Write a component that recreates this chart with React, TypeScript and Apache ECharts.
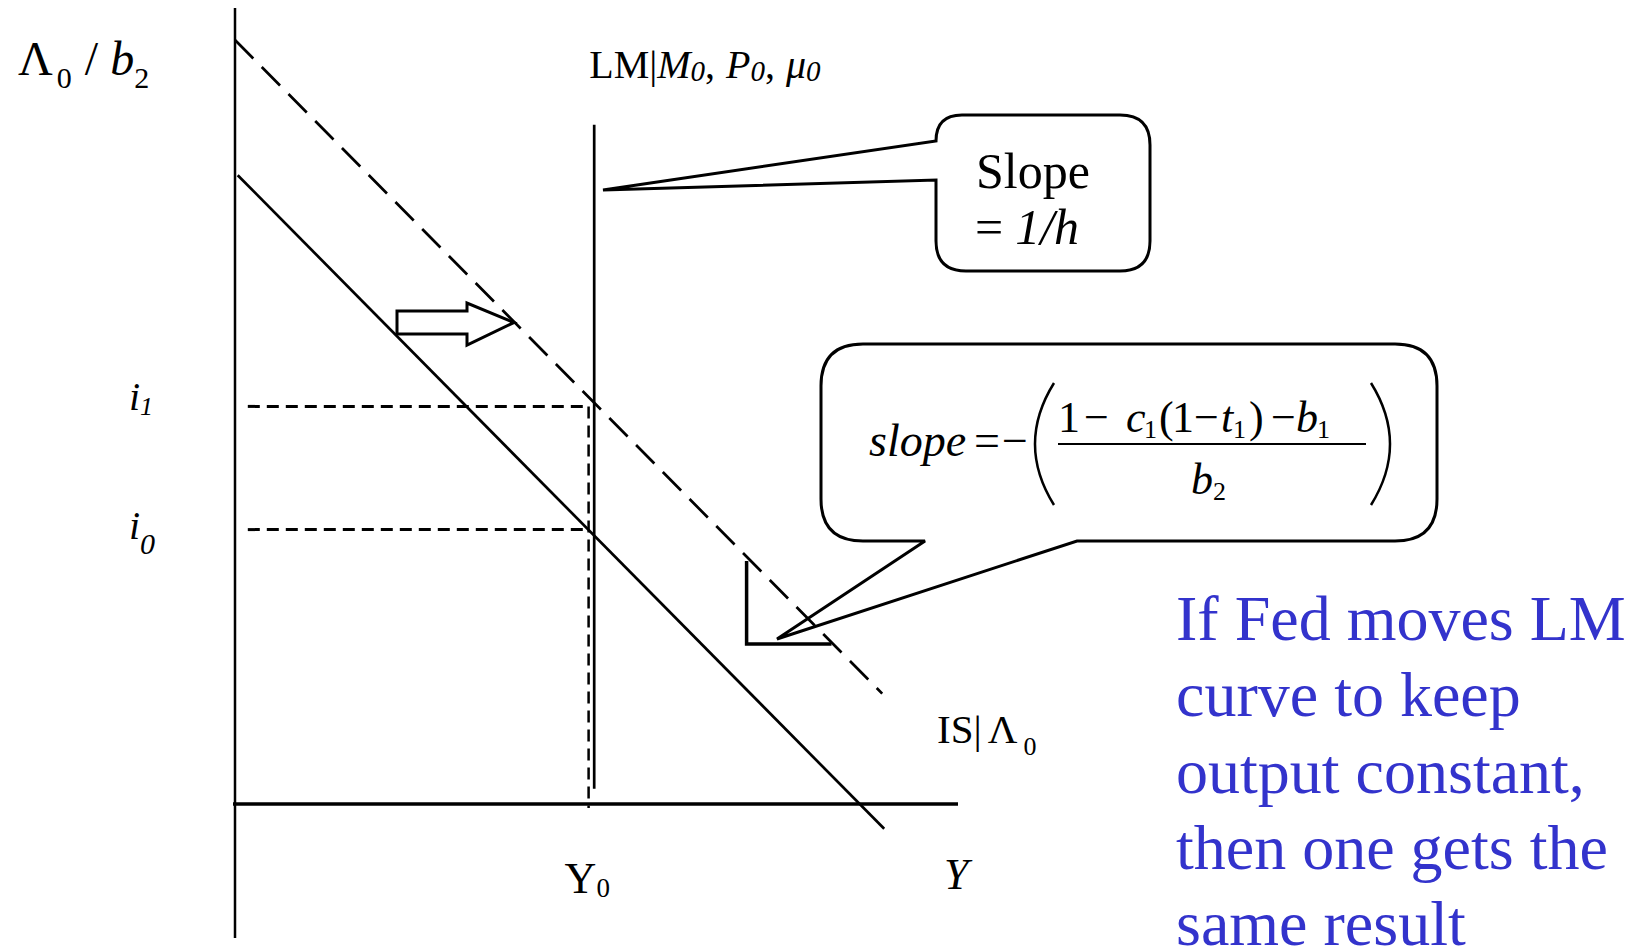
import React, { useEffect, useRef } from "react";
import * as echarts from "echarts";

// ---- Diagram data (economic units: output Y on x, interest rate i on y) ----
const yAxisLine = [[0, 99.5], [0, -16.75]];
const xAxisLine = [[-0.5, 0], [90.6, 0]];
const isInitial = [[0.34, 78.6], [81.15, -3.1]];
const isShifted = [[0, 95.5], [80.9, 13.8]];
const lmCurve = [[44.9, 84.9], [44.9, 1.9]];
const Y0 = 44.2;
const I1 = 49.7;
const I0 = 34.3;
const guideY0 = [[Y0, I1], [Y0, -0.5]];
const guideI1 = [[1.6, I1], [Y0, I1]];
const guideI0 = [[1.6, I0], [Y0, I0]];

const noteLines = [
  "If Fed moves LM",
  "curve to keep",
  "output constant,",
  "then one gets the",
  "same result",
];

const FONT = '"Liberation Serif", "Times New Roman", serif';

const slopeCalloutD =
  "M 962 115 L 1120 115 Q 1150 115 1150 145 L 1150 241 Q 1150 271 1120 271 L 966 271 Q 936 271 936 241 L 936 180 L 603 190 L 936 141 Q 936 115 962 115 Z";
const formulaCalloutD =
  "M 863 344 L 1395 344 Q 1437 344 1437 386 L 1437 499 Q 1437 541 1395 541 L 1077 541 L 777 639 L 925 541 L 863 541 Q 821 541 821 499 L 821 386 Q 821 344 863 344 Z";

echarts.graphic.registerShape("slopeCallout", echarts.graphic.extendPath(slopeCalloutD, {}));
echarts.graphic.registerShape("formulaCallout", echarts.graphic.extendPath(formulaCalloutD, {}));

let mctx: CanvasRenderingContext2D | null = null;
function metrics(t: string, s: number, it?: boolean) {
  if (!mctx) mctx = document.createElement("canvas").getContext("2d");
  if (!mctx) return { adv: t.length * s * 0.5, left: 0, right: t.length * s * 0.5 };
  mctx.font = `${it ? "italic " : ""}${s}px ${FONT}`;
  const m = mctx.measureText(t);
  return { adv: m.width, left: m.actualBoundingBoxLeft || 0, right: m.actualBoundingBoxRight || m.width };
}

type Frag = { t: string; s: number; it?: boolean; dy?: number; dx?: number };

function textEl(t: string, x: number, baseline: number, s: number, it?: boolean, fill = "#000") {
  return {
    type: "text",
    x,
    y: baseline - 0.34 * s,
    silent: true,
    z: 10,
    style: {
      text: t,
      fill,
      fontSize: s,
      fontFamily: FONT,
      fontStyle: it ? "italic" : "normal",
      align: "left",
      verticalAlign: "middle",
    },
  } as any;
}

function flow(frags: Frag[], x0: number, baseline: number, out: any[]) {
  let x = x0;
  for (const f of frags) {
    x += f.dx || 0;
    out.push(textEl(f.t, x, baseline + (f.dy || 0), f.s, f.it));
    x += metrics(f.t, f.s, f.it).adv;
  }
}

// place a glyph so that its ink starts at L
function placeInk(out: any[], t: string, s: number, it: boolean, L: number, baseline: number) {
  const m = metrics(t, s, it);
  out.push(textEl(t, L + m.left, baseline, s, it));
}

const line = (data: number[][], width: number, type: any = "solid") => ({
  type: "line",
  data,
  symbol: "none",
  clip: false,
  silent: true,
  animation: false,
  lineStyle: { color: "#000", width, type, cap: "butt" },
});

export default function App() {
  const ref = useRef<HTMLDivElement>(null);
  useEffect(() => {
    const chart = echarts.init(ref.current!, null, { renderer: "svg" });
    chart.setOption({
      animation: false,
      backgroundColor: "#fff",
      grid: { left: 235, top: 4, width: 720, height: 800 },
      xAxis: { type: "value", min: 0, max: 90, show: false },
      yAxis: { type: "value", min: 0, max: 100, show: false },
      series: [
        line(yAxisLine, 2.5),
        line(xAxisLine, 3.5),
        line(isInitial, 2.7),
        line(isShifted, 2.7, [26, 12]),
        line(lmCurve, 2.7),
        line(guideY0, 2.5, [12, 7]),
        line(guideI1, 3, [12, 7]),
        line(guideI0, 3, [12, 7]),
      ],
    });

    const px = (p: number[]) => chart.convertToPixel({ gridIndex: 0 }, p) as number[];
    const g: any[] = [];
    const boxStyle = { fill: "#fff", stroke: "#000", lineWidth: 3, lineJoin: "miter", miterLimit: 3 };

    // callouts
    g.push({ type: "slopeCallout", x: 0, y: 0, silent: true, z: 1, style: boxStyle });
    g.push({ type: "formulaCallout", x: 0, y: 0, silent: true, z: 1, style: boxStyle });

    // shift arrow
    g.push({
      type: "polygon", silent: true, z: 1,
      shape: { points: [[397, 311], [467, 311], [467, 303], [514, 322.5], [467, 345], [467, 334], [397, 334]] },
      style: { fill: "#fff", stroke: "#000", lineWidth: 3 },
    });
    // arrow head corner
    g.push({
      type: "polyline", silent: true, z: 1,
      shape: { points: [[746.6, 561], [746.6, 644], [831.5, 644]] },
      style: { fill: null, stroke: "#000", lineWidth: 3.5 },
    });

    // vertical axis title
    flow([
      { t: "Λ", s: 48 },
      { t: "0", s: 30, dy: 13, dx: 4 },
      { t: "/", s: 48, dx: 13 },
      { t: "b", s: 48, it: true, dx: 12 },
      { t: "2", s: 30, dy: 13 },
    ], 18, 75, g);

    // LM label
    const lmX = px(lmCurve[0])[0];
    flow([
      { t: "LM|", s: 40 },
      { t: "M", s: 40, it: true },
      { t: "0", s: 29, it: true, dy: 3 },
      { t: ",", s: 40 },
      { t: "P", s: 40, it: true, dx: 11 },
      { t: "0", s: 29, it: true, dy: 3 },
      { t: ",", s: 40 },
      { t: "μ", s: 40, it: true, dx: 11 },
      { t: "0", s: 29, it: true, dy: 3 },
    ], lmX - 5, 78, g);

    // interest rate labels
    const yI1 = px([0, I1])[1];
    const yI0 = px([0, I0])[1];
    flow([{ t: "i", s: 40, it: true }, { t: "1", s: 26, it: true, dy: 5 }], 129, yI1 + 4, g);
    flow([{ t: "i", s: 40, it: true }, { t: "0", s: 30, it: true, dy: 15 }], 129, yI0 + 9, g);

    // output labels
    const xY0 = px([Y0, 0])[0];
    flow([{ t: "Y", s: 44 }, { t: "0", s: 27, dy: 4 }], xY0 - 24, 893, g);
    flow([{ t: "Y", s: 44, it: true }], 944, 889, g);

    // IS label
    flow([
      { t: "IS|", s: 41 },
      { t: "Λ", s: 41, dx: 6 },
      { t: "0", s: 26, dy: 12, dx: 6 },
    ], 937, 743, g);

    // Slope = 1/h
    flow([{ t: "Slope", s: 50 }], 976, 188, g);
    flow([{ t: "=", s: 50 }, { t: "1/h", s: 50, it: true, dx: 12 }], 975, 244, g);

    // formula
    placeInk(g, "slope", 46, true, 869, 456);
    placeInk(g, "=", 46, false, 976, 456);
    placeInk(g, "−", 46, false, 1004, 456);
    const nb = 432;
    placeInk(g, "1", 44, false, 1061, nb);
    placeInk(g, "−", 44, false, 1086, nb);
    placeInk(g, "c", 44, true, 1127, nb);
    placeInk(g, "1", 26, false, 1146, nb + 6);
    placeInk(g, "(", 44, false, 1160, nb);
    placeInk(g, "1", 44, false, 1175, nb);
    placeInk(g, "−", 44, false, 1196, nb);
    placeInk(g, "t", 44, true, 1222, nb);
    placeInk(g, "1", 26, false, 1235, nb + 6);
    placeInk(g, ")", 44, false, 1250, nb);
    placeInk(g, "−", 44, false, 1273, nb);
    placeInk(g, "b", 44, true, 1297, nb);
    placeInk(g, "1", 26, false, 1319, nb + 6);
    g.push({ type: "line", silent: true, z: 10, shape: { x1: 1058, y1: 444, x2: 1366, y2: 444 }, style: { stroke: "#000", lineWidth: 2 } });
    placeInk(g, "b", 44, true, 1192, 494);
    placeInk(g, "2", 26, false, 1214, 500);
    g.push({ type: "bezierCurve", silent: true, z: 10, shape: { x1: 1054, y1: 383, x2: 1054, y2: 505, cpx1: 1016, cpy1: 444 }, style: { stroke: "#000", lineWidth: 2.5, fill: null } });
    g.push({ type: "bezierCurve", silent: true, z: 10, shape: { x1: 1371, y1: 383, x2: 1371, y2: 505, cpx1: 1409, cpy1: 444 }, style: { stroke: "#000", lineWidth: 2.5, fill: null } });

    // blue note
    const noteBase = [640, 716.5, 793, 869, 945.5];
    noteLines.forEach((t, k) => g.push(textEl(t, 1176, noteBase[k], 64, false, "#3333CC")));

    chart.setOption({ graphic: { elements: g } });
    return () => chart.dispose();
  }, []);
  return (
    <div
      ref={ref}
      style={{ position: "absolute", left: 0, top: 0, width: 1635, height: 950, background: "#fff" }}
    />
  );
}
